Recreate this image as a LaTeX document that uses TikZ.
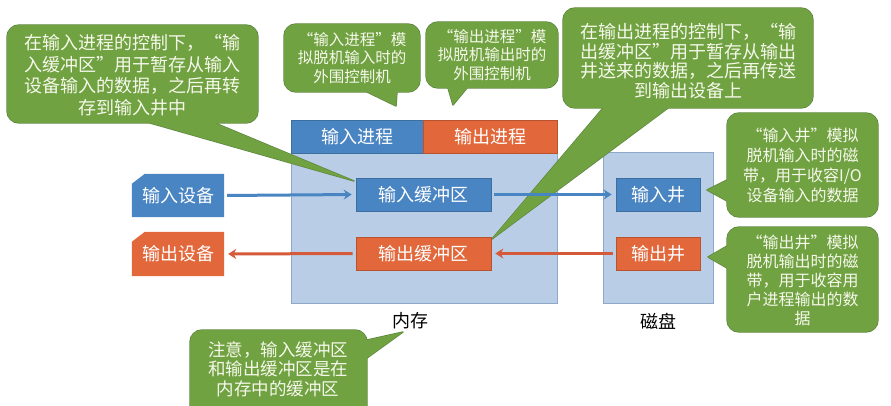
\documentclass[tikz,border=0pt]{standalone}
\usepackage{fontspec}
\setmainfont{Noto Sans CJK SC}
\newfontfamily\latinf{Noto Sans CJK SC}
\usetikzlibrary{arrows.meta}
\definecolor{cblue}{HTML}{4A85C3}
\definecolor{cbluedark}{HTML}{3C6E9F}
\definecolor{corange}{HTML}{E2683C}
\definecolor{corangedark}{HTML}{B9522E}
\definecolor{cmem}{HTML}{B9CEE6}
\definecolor{cmemedge}{HTML}{8FA8C8}
\definecolor{cgreen}{HTML}{70A242}
\definecolor{cgreendark}{HTML}{5E8640}
\definecolor{ctxt}{HTML}{F6F8EA}
\definecolor{carrowb}{HTML}{4A85C3}
\definecolor{carrowr}{HTML}{D55A3A}
\newcommand{\myLq}{\makebox[1em][r]{“}}
\newcommand{\myRq}{\makebox[1em][l]{”}}
\newcommand{\mkcall}[5]{%
  \draw[cedge, rounded corners=12pt] (#1,#2) rectangle (#3,#4);
  \draw[cedge] #5;
  \fill[cgreen, rounded corners=12pt] (#1,#2) rectangle (#3,#4);
  \fill[cgreen] #5;}
\begin{document}
\begin{tikzpicture}[x=1pt,y=-1pt,
  lbl/.style={font=\fontsize{18}{21}\selectfont, text=white, inner sep=0pt},
  bluebox/.style={lbl, fill=cblue, draw=cbluedark, line width=0.6pt},
  orangebox/.style={lbl, fill=corange, draw=corangedark, line width=0.6pt},
  container/.style={fill=cmem, draw=cmemedge, line width=0.8pt, inner sep=0pt},
  ctext/.style={align=center, text=ctxt, inner sep=0pt},
  cedge/.style={draw=cgreendark, line width=1.4pt, line join=round},
  barrow/.style={draw=carrowb, line width=3pt, -{Stealth[length=8pt,width=10pt]}, shorten >=4pt, shorten <=3pt},
  rarrow/.style={draw=carrowr, line width=3pt, -{Stealth[length=8pt,width=10pt]}, shorten >=4pt, shorten <=3pt},
  caption/.style={font=\fontsize{18}{21}\selectfont, text=black, inner sep=0pt}
]
\useasboundingbox (0,0) rectangle (891,406);
\clip (0,0) rectangle (891,406);
\fill[white] (0,0) rectangle (891,406);

% containers
\node[container, minimum width=266pt, minimum height=183pt] (mem) at (424,211.5) {};
\node[container, minimum width=110pt, minimum height=151pt] (disk) at (658,227.5) {};
\node[bluebox, minimum width=132pt, minimum height=33pt] (inproc) at (357,136.5) {输入进程};
\node[orangebox, minimum width=134pt, minimum height=33pt] (outproc) at (490,136.5) {输出进程};
\node[caption] (memlbl) at (410,321) {内存};
\node[caption] (disklbl) at (658,321) {磁盘};

% devices (chamfered)
\node[lbl, minimum width=92pt, minimum height=43pt] (indev) at (178,195.5) {};
\fill[cblue] (indev.south west) -- ([yshift=-10pt]indev.north west) -- ([xshift=13pt]indev.north west) -- (indev.north east) -- (indev.south east) -- cycle;
\node[lbl] at (indev) {输入设备};
\node[lbl, minimum width=92pt, minimum height=44pt] (outdev) at (178,254) {};
\fill[corange] (outdev.south west) -- ([yshift=-10pt]outdev.north west) -- ([xshift=13pt]outdev.north west) -- (outdev.north east) -- (outdev.south east) -- cycle;
\node[lbl] at (outdev) {输出设备};

% callout tips
\coordinate (t1) at (354,181);
\coordinate (t2) at (396,106);
\coordinate (t3) at (453,105);
\coordinate (t4) at (492,239);
\coordinate (t5) at (707,190);
\coordinate (t6) at (708,257);
\coordinate (t7) at (403,332);

% callouts
\mkcall{7}{25}{258}{123}{(150,123) -- (t1) -- (215,123) -- (215,115) -- (150,115) -- cycle}
\node[ctext, font=\fontsize{18}{21.5}\selectfont] (c1) at (132.5,75) {在输入进程的控制下，\myLq 输\\入缓冲区\myRq 用于暂存从输入\\设备输入的数据，之后再转\\存到输入井中};
\mkcall{284}{24}{420}{92}{(367,92) -- (t2) -- (397,92) -- (397,85) -- (367,85) -- cycle}
\node[ctext, font=\fontsize{15.5}{18.5}\selectfont] (c2) at (352,58) {\myLq 输入进程\myRq 模\\拟脱机输入时的\\外围控制机};
\mkcall{426}{22}{558}{88}{(448,88) -- (t3) -- (467,88) -- (467,81) -- (448,81) -- cycle}
\node[ctext, font=\fontsize{15.5}{18.5}\selectfont] (c3) at (492,55) {\myLq 输出进程\myRq 模\\拟脱机输出时的\\外围控制机};
\mkcall{563}{8}{813}{108}{(603,108) -- (t4) -- (668,108) -- (668,100) -- (603,100) -- cycle}
\node[ctext, font=\fontsize{18}{19.5}\selectfont] (c4) at (688,61) {在输出进程的控制下，\myLq 输\\出缓冲区\myRq 用于暂存从输出\\井送来的数据，之后再传送\\到输出设备上};
\mkcall{727}{113}{878}{217}{(727,180) -- (t5) -- (727,201) -- (734,201) -- (734,180) -- cycle}
\node[ctext, font=\fontsize{16}{20}\selectfont] (c5) at (802.5,165) {\myLq 输入井\myRq 模拟\\脱机输入时的磁\\带，用于收容{\latinf I/O}\\设备输入的数据};
\mkcall{727}{227}{878}{332}{(727,246) -- (t6) -- (727,268) -- (734,268) -- (734,246) -- cycle}
\node[ctext, font=\fontsize{16}{19}\selectfont] (c6) at (802.5,280) {\myLq 输出井\myRq 模拟\\脱机输出时的磁\\带，用于收容用\\户进程输出的数\\据};
\mkcall{190}{330}{367}{420}{(367,340) -- (t7) -- (367,358) -- (360,358) -- (360,340) -- cycle}
\node[ctext, font=\fontsize{17.5}{19.5}\selectfont] (c7) at (278,369) {注意，输入缓冲区\\和输出缓冲区是在\\内存中的缓冲区};

% buffers and wells
\node[bluebox, minimum width=135pt, minimum height=33pt] (inbuf) at (423.5,194.5) {输入缓冲区};
\node[orangebox, minimum width=135pt, minimum height=33pt] (outbuf) at (423.5,253.5) {输出缓冲区};
\node[bluebox, minimum width=84pt, minimum height=33pt] (inwell) at (658,194.5) {输入井};
\node[orangebox, minimum width=84pt, minimum height=33pt] (outwell) at (658,253.5) {输出井};

% arrows
\draw[barrow] (indev.east) -- (inbuf.west);
\draw[barrow] (inbuf.east) -- (inwell.west);
\draw[rarrow] (outwell.west) -- (outbuf.east);
\draw[rarrow] (outbuf.west) -- (outdev.east);
\end{tikzpicture}
\end{document}
